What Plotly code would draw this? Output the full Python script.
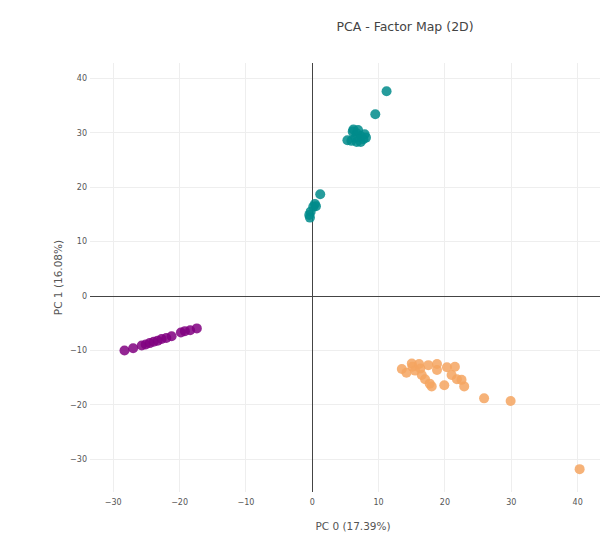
import plotly.graph_objects as go

# Cluster 1 (teal)
teal_x = [11.2, 9.5, 6.2, 6.7, 7.3, 7.9, 5.3, 5.9, 6.7, 7.3, 7.7, 8.1, 6.5, 6.1, 6.9,
          1.2, 0.4, 0.15, -0.24, -0.45, 0.56, -0.35]
teal_y = [37.6, 33.4, 30.6, 29.9, 29.4, 29.7, 28.6, 28.5, 28.3, 28.3, 28.8, 29.1, 29.1, 30.2, 30.5,
          18.7, 16.9, 16.4, 15.5, 14.9, 16.5, 14.4]

# Cluster 2 (purple)
purple_x = [-28.3, -27.0, -25.7, -25.1, -24.5, -23.9, -23.3, -22.7, -22.0, -21.2,
            -19.8, -19.2, -18.4, -17.4]
purple_y = [-10.0, -9.6, -9.1, -8.9, -8.65, -8.4, -8.2, -7.9, -7.7, -7.4,
            -6.7, -6.45, -6.3, -5.95]

# Cluster 3 (orange)
orange_x = [13.5, 14.2, 15.0, 15.1, 15.5, 16.1, 16.3, 16.5, 17.0, 17.5, 17.7, 18.0,
            18.8, 18.8, 19.9, 20.3, 21.0, 21.5, 21.8, 22.5, 22.9, 25.9, 29.9, 40.3]
orange_y = [-13.4, -14.1, -12.4, -13.0, -13.7, -12.5, -13.3, -14.5, -15.3, -12.7, -16.1, -16.6,
            -12.5, -13.6, -16.4, -13.1, -14.5, -13.0, -15.3, -15.4, -16.6, -18.8, -19.3, -31.8]

x_title = "PC 0 (17.39%)"
y_title = "PC 1 (16.08%)"
chart_title = "PCA - Factor Map (2D)"

FONT = "Verdana, DejaVu Sans, sans-serif"

fig = go.Figure()
for xs, ys, col, name in [(teal_x, teal_y, "#008b8b", "0"),
                          (purple_x, purple_y, "#800080", "1"),
                          (orange_x, orange_y, "#f4a460", "2")]:
    fig.add_trace(go.Scatter(x=xs, y=ys, mode="markers", name=name,
                             marker=dict(size=10, color=col, opacity=0.85)))

axis_common = dict(
    showgrid=True, gridcolor="#eeeeee", gridwidth=1,
    zeroline=True, zerolinecolor="#444444", zerolinewidth=1,
    showline=False, ticks="",
    tickfont=dict(family=FONT, size=8, color="#555"),
    dtick=10,
    automargin=True,
)

W, H = 608, 527
fig.update_layout(
    width=W, height=H,
    paper_bgcolor="white", plot_bgcolor="white",
    margin=dict(l=82, r=0, t=55, b=43),
    showlegend=False,
    title=dict(text=chart_title, x=397 / W, xanchor="center", xref="container",
               y=1 - 18.5 / H, yanchor="middle", yref="container",
               font=dict(family=FONT, size=12.5, color="#444")),
    xaxis=dict(range=[-33.5, 45.78], ticklabelstandoff=4,
               title=dict(text=x_title, standoff=16,
                          font=dict(family=FONT, size=10.5, color="#555")),
               **axis_common),
    yaxis=dict(range=[-36.0, 42.8], ticklabelstandoff=2,
               title=dict(text=y_title, standoff=5,
                          font=dict(family=FONT, size=10.5, color="#555")),
               **axis_common),
)

fig.write_html("out.html")
